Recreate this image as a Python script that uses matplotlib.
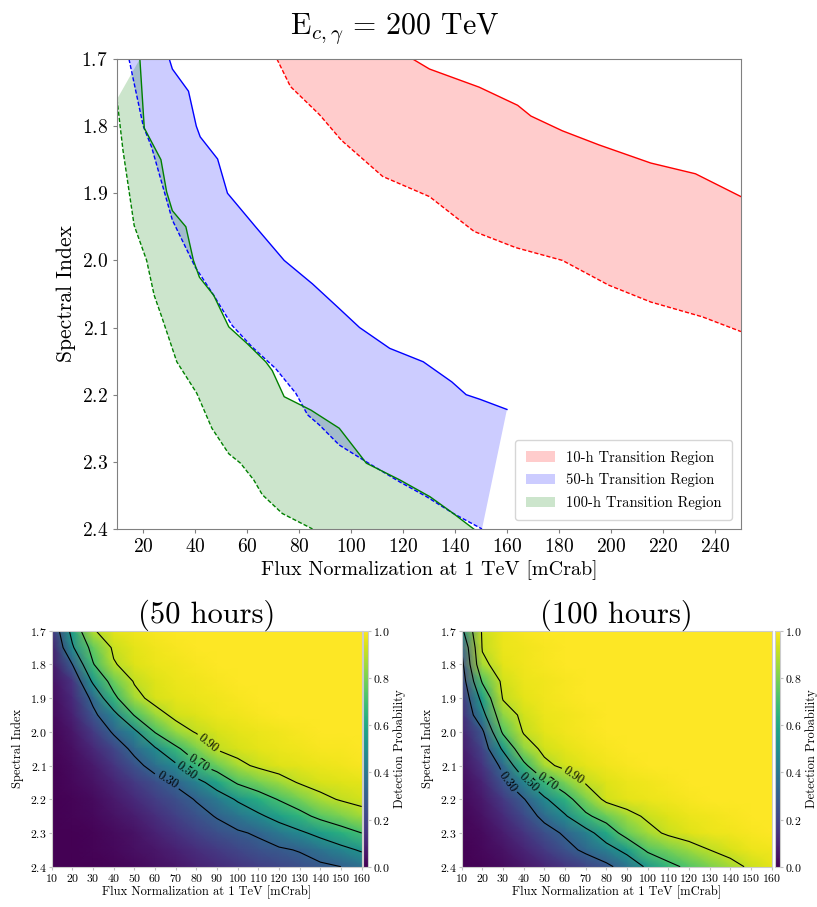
import numpy as np
import matplotlib
matplotlib.use('Agg')
import matplotlib.pyplot as plt

# Computer Modern look (matplotlib ships cmr10)
plt.rcParams['font.family'] = 'serif'
plt.rcParams['font.serif'] = ['cmr10']
plt.rcParams['mathtext.fontset'] = 'cm'
plt.rcParams['axes.formatter.use_mathtext'] = True
plt.rcParams['axes.unicode_minus'] = False

# --- transition region boundaries (top panel) ---
# 10 h
red_hi_x = [123.7, 130.2, 149.3, 164.1, 169.2, 181.3, 195.4, 215.3, 232.5, 250.0]
red_hi_y = [1.70, 1.715, 1.742, 1.769, 1.785, 1.807, 1.828, 1.855, 1.871, 1.905]
red_lo_x = [71.5, 76.7, 87.9, 96.3, 112.2, 130.2, 147.4, 163.4, 181.3, 199.2, 215.3, 235.1, 250.0]
red_lo_y = [1.70, 1.741, 1.783, 1.821, 1.875, 1.905, 1.957, 1.981, 2.00, 2.037, 2.062, 2.084, 2.106]
# 50 h
blue_hi_x = [30.1, 31.3, 37.5, 40.5, 42.0, 48.7, 52.5, 63.3, 74.3, 85.2, 95.0, 103.3, 114.9, 127.8, 138.8, 144.3, 149.7, 160.0]
blue_hi_y = [1.70, 1.715, 1.748, 1.80, 1.816, 1.849, 1.90, 1.95, 2.00, 2.035, 2.07, 2.10, 2.131, 2.151, 2.181, 2.20, 2.207, 2.222]
blue_lo_x = [14.6, 20.1, 23.3, 31.3, 40.1, 47.2, 54.3, 62.0, 71.0, 78.8, 83.3, 87.8, 95.5, 105.9, 118.8, 129.1, 139.4, 150.4]
blue_lo_y = [1.70, 1.80, 1.831, 1.94, 2.01, 2.052, 2.097, 2.129, 2.161, 2.198, 2.23, 2.245, 2.275, 2.30, 2.33, 2.352, 2.377, 2.40]
# 100 h
green_hi_x = [18.8, 20.5, 26.9, 29.1, 31.3, 36.5, 39.4, 41.7, 47.2, 53.0, 60.1, 67.2, 69.7, 74.3, 84.6, 95.5, 105.9, 118.8, 130.4, 139.4, 147.2]
green_hi_y = [1.70, 1.803, 1.85, 1.898, 1.926, 1.95, 2.00, 2.025, 2.052, 2.099, 2.124, 2.151, 2.164, 2.203, 2.223, 2.25, 2.302, 2.327, 2.352, 2.377, 2.40]
green_lo_x = [10.0, 12.3, 16.6, 21.4, 24.3, 27.2, 33.0, 40.7, 46.5, 53.0, 57.5, 62.6, 65.9, 73.6, 85.2]
green_lo_y = [1.76, 1.836, 1.948, 2.00, 2.052, 2.084, 2.151, 2.198, 2.25, 2.288, 2.302, 2.327, 2.349, 2.377, 2.40]

# --- detection probability grids (bottom panels) ---
flux = [10, 20, 30, 40, 50, 60, 70, 80, 90, 100, 110, 120, 130, 140, 150, 160]
index = [1.70, 1.75, 1.80, 1.85, 1.90, 1.95, 2.00, 2.05, 2.10, 2.15, 2.20, 2.25, 2.30, 2.35, 2.40]

prob_50h = [
    [0.15, 0.56, 0.89, 0.96, 0.98, 0.99, 1.00, 1.00, 1.00, 1.00, 1.00, 1.00, 1.00, 1.00, 1.00, 1.00],
    [0.08, 0.48, 0.76, 0.92, 0.96, 0.98, 0.99, 1.00, 1.00, 1.00, 1.00, 1.00, 1.00, 1.00, 1.00, 1.00],
    [0.06, 0.30, 0.69, 0.89, 0.95, 0.97, 0.98, 0.99, 1.00, 1.00, 1.00, 1.00, 1.00, 1.00, 1.00, 1.00],
    [0.04, 0.15, 0.53, 0.77, 0.91, 0.95, 0.97, 0.98, 0.99, 1.00, 1.00, 1.00, 1.00, 1.00, 1.00, 1.00],
    [0.03, 0.12, 0.34, 0.66, 0.86, 0.94, 0.96, 0.97, 0.98, 0.99, 1.00, 1.00, 1.00, 1.00, 1.00, 1.00],
    [0.02, 0.09, 0.26, 0.44, 0.71, 0.85, 0.93, 0.95, 0.97, 0.98, 0.99, 1.00, 1.00, 1.00, 1.00, 1.00],
    [0.01, 0.06, 0.17, 0.32, 0.46, 0.71, 0.84, 0.91, 0.94, 0.96, 0.97, 0.98, 0.99, 1.00, 1.00, 1.00],
    [0.01, 0.04, 0.11, 0.21, 0.34, 0.48, 0.67, 0.80, 0.91, 0.94, 0.96, 0.97, 0.98, 0.99, 0.99, 1.00],
    [0.00, 0.03, 0.07, 0.15, 0.25, 0.36, 0.47, 0.67, 0.77, 0.87, 0.92, 0.95, 0.96, 0.97, 0.98, 0.99],
    [0.00, 0.02, 0.05, 0.10, 0.17, 0.24, 0.32, 0.44, 0.58, 0.72, 0.79, 0.85, 0.91, 0.94, 0.95, 0.96],
    [0.00, 0.01, 0.03, 0.07, 0.12, 0.18, 0.24, 0.31, 0.41, 0.52, 0.62, 0.71, 0.79, 0.87, 0.91, 0.93],
    [0.00, 0.01, 0.02, 0.05, 0.08, 0.13, 0.19, 0.25, 0.31, 0.39, 0.47, 0.56, 0.65, 0.74, 0.80, 0.86],
    [0.00, 0.00, 0.01, 0.03, 0.05, 0.09, 0.14, 0.19, 0.24, 0.28, 0.32, 0.40, 0.47, 0.55, 0.63, 0.70],
    [0.00, 0.00, 0.01, 0.02, 0.04, 0.06, 0.09, 0.13, 0.17, 0.21, 0.25, 0.28, 0.31, 0.38, 0.45, 0.52],
    [0.00, 0.00, 0.00, 0.01, 0.02, 0.04, 0.06, 0.09, 0.12, 0.15, 0.18, 0.21, 0.24, 0.27, 0.30, 0.36],
]

prob_100h = [
    [0.46, 0.92, 0.97, 0.99, 1.00, 1.00, 1.00, 1.00, 1.00, 1.00, 1.00, 1.00, 1.00, 1.00, 1.00, 1.00],
    [0.31, 0.91, 0.97, 0.98, 0.99, 1.00, 1.00, 1.00, 1.00, 1.00, 1.00, 1.00, 1.00, 1.00, 1.00, 1.00],
    [0.25, 0.87, 0.96, 0.98, 0.99, 1.00, 1.00, 1.00, 1.00, 1.00, 1.00, 1.00, 1.00, 1.00, 1.00, 1.00],
    [0.20, 0.72, 0.93, 0.97, 0.98, 0.99, 1.00, 1.00, 1.00, 1.00, 1.00, 1.00, 1.00, 1.00, 1.00, 1.00],
    [0.15, 0.56, 0.91, 0.96, 0.98, 0.99, 1.00, 1.00, 1.00, 1.00, 1.00, 1.00, 1.00, 1.00, 1.00, 1.00],
    [0.12, 0.44, 0.83, 0.93, 0.97, 0.98, 0.99, 1.00, 1.00, 1.00, 1.00, 1.00, 1.00, 1.00, 1.00, 1.00],
    [0.09, 0.27, 0.73, 0.91, 0.96, 0.98, 0.99, 1.00, 1.00, 1.00, 1.00, 1.00, 1.00, 1.00, 1.00, 1.00],
    [0.07, 0.20, 0.53, 0.83, 0.93, 0.96, 0.98, 0.99, 1.00, 1.00, 1.00, 1.00, 1.00, 1.00, 1.00, 1.00],
    [0.05, 0.15, 0.34, 0.66, 0.87, 0.93, 0.96, 0.98, 0.99, 1.00, 1.00, 1.00, 1.00, 1.00, 1.00, 1.00],
    [0.03, 0.10, 0.26, 0.45, 0.67, 0.80, 0.91, 0.95, 0.97, 0.98, 0.99, 1.00, 1.00, 1.00, 1.00, 1.00],
    [0.02, 0.07, 0.17, 0.29, 0.47, 0.64, 0.80, 0.93, 0.96, 0.97, 0.98, 0.99, 1.00, 1.00, 1.00, 1.00],
    [0.01, 0.05, 0.12, 0.22, 0.34, 0.48, 0.67, 0.77, 0.86, 0.92, 0.95, 0.97, 0.98, 0.99, 1.00, 1.00],
    [0.01, 0.03, 0.08, 0.15, 0.24, 0.32, 0.43, 0.60, 0.77, 0.86, 0.92, 0.95, 0.97, 0.98, 0.99, 1.00],
    [0.00, 0.02, 0.05, 0.10, 0.17, 0.25, 0.33, 0.43, 0.55, 0.73, 0.79, 0.85, 0.90, 0.94, 0.97, 0.98],
    [0.00, 0.01, 0.03, 0.06, 0.10, 0.15, 0.20, 0.26, 0.38, 0.53, 0.66, 0.73, 0.80, 0.86, 0.92, 0.96],
]

contour_levels = [0.3, 0.5, 0.7, 0.9]

fig = plt.figure(figsize=(8.17, 9.07), dpi=100)

# ---------------- top panel ----------------
ax = fig.add_axes([0.1432, 0.4168, 0.7637, 0.5182])

regions = [
    (red_hi_x, red_hi_y, red_lo_x, red_lo_y, 'red', '10-h Transition Region'),
    (blue_hi_x, blue_hi_y, blue_lo_x, blue_lo_y, 'blue', '50-h Transition Region'),
    (green_hi_x, green_hi_y, green_lo_x, green_lo_y, 'green', '100-h Transition Region'),
]
for hx, hy, lx, ly, col, lab in regions:
    ax.fill(hx + lx[::-1], hy + ly[::-1], color=col, alpha=0.2, lw=0, label=lab)
    ax.plot(hx, hy, color=col, lw=1)
    ax.plot(lx, ly, color=col, lw=1, ls=(0, (3, 1.5)))

ax.set_xlim(10, 250)
ax.set_ylim(2.4, 1.7)
ax.set_xticks(range(20, 250, 20))
ax.set_yticks([1.7, 1.8, 1.9, 2.0, 2.1, 2.2, 2.3, 2.4])
ax.tick_params(labelsize=14, length=3, color='0.5')
for s in ax.spines.values():
    s.set_color('0.5')
ax.set_xlabel('Flux Normalization at 1 TeV [mCrab]', fontsize=14.5, labelpad=3)
ax.set_ylabel('Spectral Index', fontsize=15.5)
ax.legend(loc='lower right', fontsize=10.5, borderpad=0.7, handlelength=2.0,
          labelspacing=0.6, borderaxespad=0.6)
fig.text(0.483, 0.968, r'$\mathrm{E}_{c,\gamma}$ = 200 TeV', ha='center', va='center', fontsize=21.5)

# ---------------- bottom heatmaps ----------------
X, Y = np.meshgrid(flux, index)
panels = [
    (prob_50h, '(50 hours)', 0.0633, 0.4449,
     [(65.0, 2.155), (73.5, 2.132), (80.5, 2.100), (86.0, 2.033)]),
    (prob_100h, '(100 hours)', 0.5651, 0.9492,
     [(32.6, 2.147), (42.3, 2.149), (51.9, 2.142), (64.0, 2.132)]),
]
for prob, title, left, cleft, label_pos in panels:
    P = np.array(prob)
    axh = fig.add_axes([left, 0.0444, 0.3794, 0.2602])
    mesh = axh.pcolormesh(X, Y, P, shading='gouraud', cmap='viridis', vmin=0, vmax=1)
    cs = axh.contour(X, Y, P, levels=contour_levels, colors='k', linewidths=0.8)
    # limits first, so label angles are worked out on the inverted axis
    axh.set_xlim(10, 160)
    axh.set_ylim(2.4, 1.7)
    axh.clabel(cs, fmt='%.2f', fontsize=9, manual=label_pos, inline_spacing=3)
    axh.set_xticks(flux)
    axh.set_yticks([1.7, 1.8, 1.9, 2.0, 2.1, 2.2, 2.3, 2.4])
    axh.tick_params(labelsize=8.5, length=2, color='0.75', pad=1.5)
    for s in axh.spines.values():
        s.set_color('0.8')
    axh.set_xlabel('Flux Normalization at 1 TeV [mCrab]', fontsize=9, labelpad=1)
    axh.set_ylabel('Spectral Index', fontsize=9)
    axh.set_title(title, fontsize=22, pad=5)

    cax = fig.add_axes([cleft, 0.0444, 0.0061, 0.2602])
    cb = fig.colorbar(mesh, cax=cax)
    cb.set_ticks([0.0, 0.2, 0.4, 0.6, 0.8, 1.0])
    cb.outline.set_edgecolor('0.8')
    cb.ax.tick_params(labelsize=8.5, length=2, color='0.75', pad=1.5)
    cb.set_label('Detection Probability', fontsize=9, labelpad=2)

fig.savefig('out.png', dpi=100)
